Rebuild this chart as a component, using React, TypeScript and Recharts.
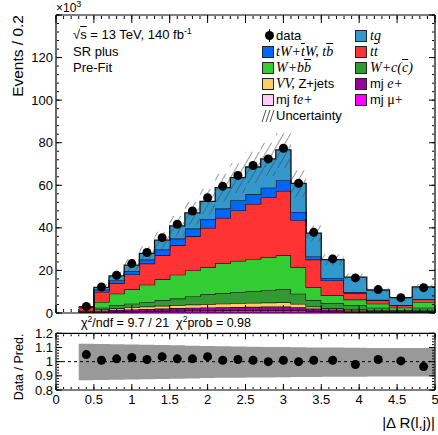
import React from 'react';
import { ComposedChart, Area, XAxis, YAxis, Scatter, ReferenceLine } from 'recharts';

const FONT = '"Liberation Sans", Arial, Helvetica, sans-serif';
const SERIF = '"Liberation Serif", "Times New Roman", serif';

// bin edges (|ΔR(l,j)|), 21 bins
const binEdges = [0.3, 0.5, 0.7, 0.9, 1.1, 1.3, 1.5, 1.7, 1.9, 2.1, 2.3, 2.5, 2.7, 2.9, 3.1, 3.3, 3.5, 3.8, 4.1, 4.4, 4.7, 5.0];
const binCenters = [0.4, 0.6, 0.8, 1.0, 1.2, 1.4, 1.6, 1.8, 2.0, 2.2, 2.4, 2.6, 2.8, 3.0, 3.2, 3.4, 3.65, 3.95, 4.25, 4.55, 4.85];

// stacked components, in units of 10^3 events
const mjMu = [0.15, 0.5, 0.6, 0.7, 0.8, 0.9, 1.0, 1.1, 1.1, 1.2, 1.2, 1.3, 1.3, 1.3, 1.2, 0.9, 0.7, 0.5, 0.4, 0.25, 0.4];
const mjFe = [0.05, 0.1, 0.1, 0.1, 0.1, 0.1, 0.1, 0.1, 0.1, 0.1, 0.1, 0.1, 0.1, 0.1, 0.1, 0.1, 0.05, 0.05, 0.05, 0.05, 0.05];
const mjE = [0.2, 0.6, 0.8, 0.9, 1.0, 1.1, 1.2, 1.3, 1.4, 1.4, 1.5, 1.5, 1.6, 1.6, 1.4, 1.1, 0.9, 0.65, 0.5, 0.35, 0.5];
const vvZ = [0.1, 0.5, 0.7, 0.9, 1.1, 1.3, 1.4, 1.5, 1.6, 1.7, 1.8, 1.9, 1.9, 2.0, 1.6, 0.9, 0.55, 0.4, 0.25, 0.15, 0.25];
const wc = [0.3, 0.8, 1.4, 1.8, 2.2, 2.6, 3.1, 3.8, 4.6, 5.0, 5.3, 5.4, 5.8, 6.1, 4.8, 3.0, 2.5, 2.0, 1.3, 0.5, 1.3];
const wbb = [0.3, 2.7, 5.5, 6.7, 8.1, 9.8, 11.2, 12.2, 12.7, 14.1, 14.6, 15.1, 15.6, 16.0, 12.5, 6.2, 3.6, 2.7, 1.9, 1.2, 2.7];
const ttbar = [1.4, 4.7, 5.0, 7.0, 9.9, 11.4, 13.8, 16.0, 18.5, 21.2, 23.7, 26.0, 28.0, 30.3, 22.0, 12.9, 7.0, 3.1, 1.6, 1.1, 1.2];
const tw = [0.2, 1.1, 1.3, 1.5, 1.9, 2.6, 3.2, 3.7, 4.0, 4.4, 4.8, 4.5, 4.6, 5.0, 3.9, 1.5, 1.2, 0.3, 0.2, 0.2, 0.2];
const tq = [0.2, 1.0, 2.0, 2.9, 2.9, 4.4, 5.9, 7.3, 8.4, 9.8, 10.6, 12.8, 13.5, 14.2, 13.4, 10.9, 8.6, 7.2, 4.6, 3.4, 5.7];

const dataValues = [3.1, 12.2, 17.7, 23.2, 28.4, 35.4, 41.7, 47.9, 54.2, 59.5, 64.6, 69.3, 72.4, 77.4, 60.9, 37.9, 25.4, 16.5, 11.0, 7.2, 11.9];
const ratioValues = [1.05, 1.01, 1.02, 1.03, 1.015, 1.035, 1.02, 1.02, 1.035, 1.01, 1.015, 1.01, 1.0, 1.01, 1.0, 1.01, 1.01, 0.98, 1.015, 1.005, 0.965];

// relative uncertainty band (ratio pad)
const bandHi = [1.127, 1.125, 1.123, 1.121, 1.119, 1.117, 1.115, 1.113, 1.111, 1.109, 1.107, 1.105, 1.104, 1.103, 1.102, 1.1, 1.099, 1.098, 1.097, 1.096, 1.096];
const bandLo = [0.868, 0.87, 0.872, 0.874, 0.876, 0.878, 0.88, 0.882, 0.884, 0.886, 0.887, 0.888, 0.889, 0.89, 0.891, 0.892, 0.893, 0.894, 0.895, 0.896, 0.896];

const upperYLabels = [0, 20, 40, 60, 80, 100, 120];
const ratioYLabels = [0.8, 0.9, 1, 1.1, 1.2];
const xLabels = [0, 0.5, 1, 1.5, 2, 2.5, 3, 3.5, 4, 4.5, 5];

const seriesDefs = [
  { key: 'mjMu', values: mjMu, color: '#ff00ff' },
  { key: 'mjFe', values: mjFe, color: '#ffccff' },
  { key: 'mjE', values: mjE, color: '#990099' },
  { key: 'vvZ', values: vvZ, color: '#ffcc66' },
  { key: 'wc', values: wc, color: '#339933' },
  { key: 'wbb', values: wbb, color: '#33cc33' },
  { key: 'ttbar', values: ttbar, color: '#ff3333' },
  { key: 'tw', values: tw, color: '#0066ff' },
  { key: 'tq', values: tq, color: '#3399cc' },
];

const rows = binEdges.map((x, i) => {
  const b = Math.min(i, binCenters.length - 1);
  const r: any = { x };
  let tot = 0;
  for (const s of seriesDefs) {
    r[s.key] = s.values[b];
    tot += s.values[b];
  }
  r.unc = [tot * bandLo[b], tot * bandHi[b]];
  r.band = [bandLo[b], bandHi[b]];
  return r;
});

const dataPts = binCenters.map((x, i) => ({ x, y: dataValues[i] }));
const ratioPts = binCenters.map((x, i) => ({ x, y: ratioValues[i] }));

const xMinorTicks = Array.from({ length: 51 }, (_, i) => i / 10);
const upperYMajor = [0, 20, 40, 60, 80, 100, 120, 140];
const upperYMinor = Array.from({ length: 36 }, (_, i) => i * 4);
const ratioYMinor = Array.from({ length: 21 }, (_, i) => Math.round((0.8 + i * 0.02) * 100) / 100);

function frameAxes(p: {
  yDomain: [number, number];
  yMaj: number[];
  yMin: number[];
  xMajLen: number;
  xMinLen: number;
  yMajLen: number;
  yMinLen: number;
}) {
  const common: any = {
    type: 'number',
    allowDataOverflow: true,
    tickFormatter: () => '',
    interval: 0,
    mirror: true,
    tickLine: { stroke: '#000', strokeWidth: 1 },
    tick: { fontSize: 1 },
  };
  const major = { axisLine: { stroke: '#000', strokeWidth: 1.2 } };
  const minor = { axisLine: false };
  const out: any[] = [];
  (['bottom', 'top'] as const).forEach((o) => {
    out.push(
      <XAxis key={'xM' + o} xAxisId={'xM' + o} orientation={o} height={1} dataKey="x" domain={[0, 5]} ticks={xLabels} tickSize={p.xMajLen} {...common} {...major} />
    );
    out.push(
      <XAxis key={'xm' + o} xAxisId={'xm' + o} orientation={o} height={1} dataKey="x" domain={[0, 5]} ticks={xMinorTicks} tickSize={p.xMinLen - 1} {...common} {...minor} />
    );
  });
  (['left', 'right'] as const).forEach((o) => {
    out.push(
      <YAxis key={'yM' + o} yAxisId={'yM' + o} orientation={o} width={1} domain={p.yDomain} ticks={p.yMaj} tickSize={p.yMajLen} {...common} {...major} />
    );
    out.push(
      <YAxis key={'ym' + o} yAxisId={'ym' + o} orientation={o} width={1} domain={p.yDomain} ticks={p.yMin} tickSize={p.yMinLen - 1} {...common} {...minor} />
    );
  });
  return out;
}

const OL = ({ children }: { children: React.ReactNode }) => (
  <span style={{ textDecoration: 'overline' }}>{children}</span>
);
const It = ({ children }: { children: React.ReactNode }) => (
  <span style={{ fontFamily: SERIF, fontStyle: 'italic', fontSize: 14 }}>{children}</span>
);

const Swatch = ({ x, y, color }: { x: number; y: number; color: string }) => (
  <div
    style={{
      position: 'absolute',
      left: x,
      top: y - 6,
      width: 10,
      height: 10,
      background: color,
      border: '1px solid #222',
    }}
  />
);

const LegText = ({ x, y, children }: { x: number; y: number; children: React.ReactNode }) => (
  <div
    style={{
      position: 'absolute',
      left: x,
      top: y - 9,
      lineHeight: '18px',
      height: 18,
      fontSize: 13,
      fontFamily: FONT,
      whiteSpace: 'nowrap',
      color: '#000',
    }}
  >
    {children}
  </div>
);

const C1S = 262;
const C1T = 276;
const C2S = 355;
const C2T = 370;
const rowY = [36, 52, 68, 84, 100, 116];

export default function App() {
  return (
    <div style={{ position: 'absolute', left: 0, top: 0, width: 438, height: 435, background: '#fff', overflow: 'hidden' }}>
      <div style={{ position: 'absolute', left: 0, top: 0 }}>
        <ComposedChart width={438} height={320} data={rows} margin={{ top: 15, right: 3, bottom: 7, left: 0 }}>
          <defs>
            <pattern id="hatch" patternUnits="userSpaceOnUse" width="6" height="6" patternTransform="rotate(30)">
              <line x1="0" y1="0" x2="0" y2="6" stroke="#444" strokeWidth="1.1" />
            </pattern>
          </defs>
          <XAxis xAxisId={0} dataKey="x" type="number" domain={[0, 5]} allowDataOverflow hide />
          <YAxis
            yAxisId={0}
            type="number"
            domain={[0, 140]}
            allowDataOverflow
            ticks={upperYLabels}
            interval={0}
            width={56}
            tickLine={false}
            axisLine={false}
            tickSize={1}
            tickMargin={2}
            tick={{ fontSize: 13, fill: '#000', fontFamily: FONT }}
          />
          {frameAxes({ yDomain: [0, 140], yMaj: upperYMajor, yMin: upperYMinor, xMajLen: 8, xMinLen: 4, yMajLen: 6, yMinLen: 3 })}
          {seriesDefs.map((s) => (
            <Area
              key={s.key}
              dataKey={s.key}
              stackId="stack"
              type="stepAfter"
              fill={s.color}
              fillOpacity={1}
              stroke="#111"
              strokeWidth={1.3}
              isAnimationActive={false}
              dot={false}
              activeDot={false}
            />
          ))}
          <Area
            dataKey="unc"
            type="stepAfter"
            fill="url(#hatch)"
            fillOpacity={1}
            stroke="none"
            isAnimationActive={false}
            dot={false}
            activeDot={false}
          />
          <Scatter
            data={dataPts}
            dataKey="y"
            isAnimationActive={false}
            shape={(p: any) => <circle cx={p.cx} cy={p.cy} r={4.5} fill="#000" />}
          />
        </ComposedChart>
      </div>

      <div style={{ position: 'absolute', left: 0, top: 320 }}>
        <ComposedChart width={438} height={115} data={rows} margin={{ top: 13.3, right: 3, bottom: 15, left: 0 }}>
          <XAxis
            xAxisId={0}
            dataKey="x"
            type="number"
            domain={[0, 5]}
            allowDataOverflow
            ticks={xLabels}
            interval={0}
            height={30}
            tickLine={false}
            axisLine={false}
            tickSize={3}
            tickMargin={2}
            tick={{ fontSize: 13, fill: '#000', fontFamily: FONT }}
          />
          <YAxis
            yAxisId={0}
            type="number"
            domain={[0.8, 1.2]}
            allowDataOverflow
            ticks={ratioYLabels}
            interval={0}
            width={56}
            tickLine={false}
            axisLine={false}
            tickSize={1}
            tickMargin={2}
            tick={{ fontSize: 13, fill: '#000', fontFamily: FONT }}
          />
          {frameAxes({ yDomain: [0.8, 1.2], yMaj: ratioYLabels, yMin: ratioYMinor, xMajLen: 6, xMinLen: 3, yMajLen: 6, yMinLen: 3 })}
          <Area
            dataKey="band"
            type="stepAfter"
            fill="#999999"
            fillOpacity={1}
            stroke="none"
            isAnimationActive={false}
            dot={false}
            activeDot={false}
          />
          <ReferenceLine y={1} stroke="#000" strokeDasharray="3 3" strokeWidth={1} />
          <Scatter
            data={ratioPts}
            dataKey="y"
            isAnimationActive={false}
            shape={(p: any) => <circle cx={p.cx} cy={p.cy} r={4.5} fill="#000" />}
          />
        </ComposedChart>
      </div>

      <svg width={438} height={435} style={{ position: 'absolute', left: 0, top: 0, pointerEvents: 'none' }}>
        <text transform="translate(23,15) rotate(-90)" textAnchor="end" fontSize={15.5} fontFamily={FONT} fill="#000">
          Events / 0.2
        </text>
        <text transform="translate(23,367) rotate(-90)" textAnchor="middle" fontSize={12.5} fontFamily={FONT} fill="#000">
          Data / Pred.
        </text>
        <text x={435} y={428} textAnchor="end" fontSize={15} fontFamily={FONT} fill="#000">
          |Δ R(l,j)|
        </text>
        <text x={56} y={12} fontSize={12} fontFamily={FONT} fill="#000">
          ×10
          <tspan dy={-5} fontSize={9}>3</tspan>
        </text>
        <text x={81} y={327} fontSize={12.5} fontFamily={FONT} fill="#000">
          χ<tspan dy={-5} fontSize={8.5}>2</tspan>
          <tspan dy={5}>/ndf = 9.7 / 21</tspan>
          <tspan dx={7}>χ</tspan>
          <tspan dy={-5} fontSize={8.5}>2</tspan>
          <tspan dy={5}>prob = 0.98</tspan>
        </text>
      </svg>

      {/* ATLAS-style labels */}
      <LegText x={73} y={35}>
        √<OL>s</OL> = 13 TeV, 140 fb<span style={{ fontSize: 9, position: 'relative', top: -5 }}>-1</span>
      </LegText>
      <LegText x={73} y={52}>SR plus</LegText>
      <LegText x={73} y={68}>Pre-Fit</LegText>

      {/* legend */}
      <div style={{ position: 'absolute', left: 265, top: rowY[0] - 5, width: 9, height: 9, borderRadius: '50%', background: '#000' }} />
      <div style={{ position: 'absolute', left: 269, top: rowY[0] - 7, width: 1, height: 13, background: '#000' }} />
      <LegText x={C1T} y={rowY[0]}>data</LegText>
      <Swatch x={C2S} y={rowY[0]} color="#3399cc" />
      <LegText x={C2T} y={rowY[0]}>
        <It>tq</It>
      </LegText>

      <Swatch x={C1S} y={rowY[1]} color="#0066ff" />
      <LegText x={C1T} y={rowY[1]}>
        <It>
          tW+<OL>t</OL>W, t<OL>b</OL>
        </It>
      </LegText>
      <Swatch x={C2S} y={rowY[1]} color="#ff3333" />
      <LegText x={C2T} y={rowY[1]}>
        <It>
          t<OL>t</OL>
        </It>
      </LegText>

      <Swatch x={C1S} y={rowY[2]} color="#33cc33" />
      <LegText x={C1T} y={rowY[2]}>
        <It>
          W+b<OL>b</OL>
        </It>
      </LegText>
      <Swatch x={C2S} y={rowY[2]} color="#339933" />
      <LegText x={C2T} y={rowY[2]}>
        <It>
          W+c(<OL>c</OL>)
        </It>
      </LegText>

      <Swatch x={C1S} y={rowY[3]} color="#ffcc66" />
      <LegText x={C1T} y={rowY[3]}>
        <It>VV,</It> Z+jets
      </LegText>
      <Swatch x={C2S} y={rowY[3]} color="#990099" />
      <LegText x={C2T} y={rowY[3]}>
        mj <It>e+</It>
      </LegText>

      <Swatch x={C1S} y={rowY[4]} color="#ffccff" />
      <LegText x={C1T} y={rowY[4]}>
        mj f<It>e+</It>
      </LegText>
      <Swatch x={C2S} y={rowY[4]} color="#ff00ff" />
      <LegText x={C2T} y={rowY[4]}>
        mj <span style={{ fontFamily: SERIF, fontSize: 14 }}>μ+</span>
      </LegText>

      <svg width={14} height={12} style={{ position: 'absolute', left: C1S - 1, top: rowY[5] - 6 }}>
        <line x1={1} y1={12} x2={5} y2={0} stroke="#555" strokeWidth={1} />
        <line x1={5} y1={12} x2={9} y2={0} stroke="#555" strokeWidth={1} />
        <line x1={9} y1={12} x2={13} y2={0} stroke="#555" strokeWidth={1} />
      </svg>
      <LegText x={C1T} y={rowY[5]}>Uncertainty</LegText>
    </div>
  );
}
